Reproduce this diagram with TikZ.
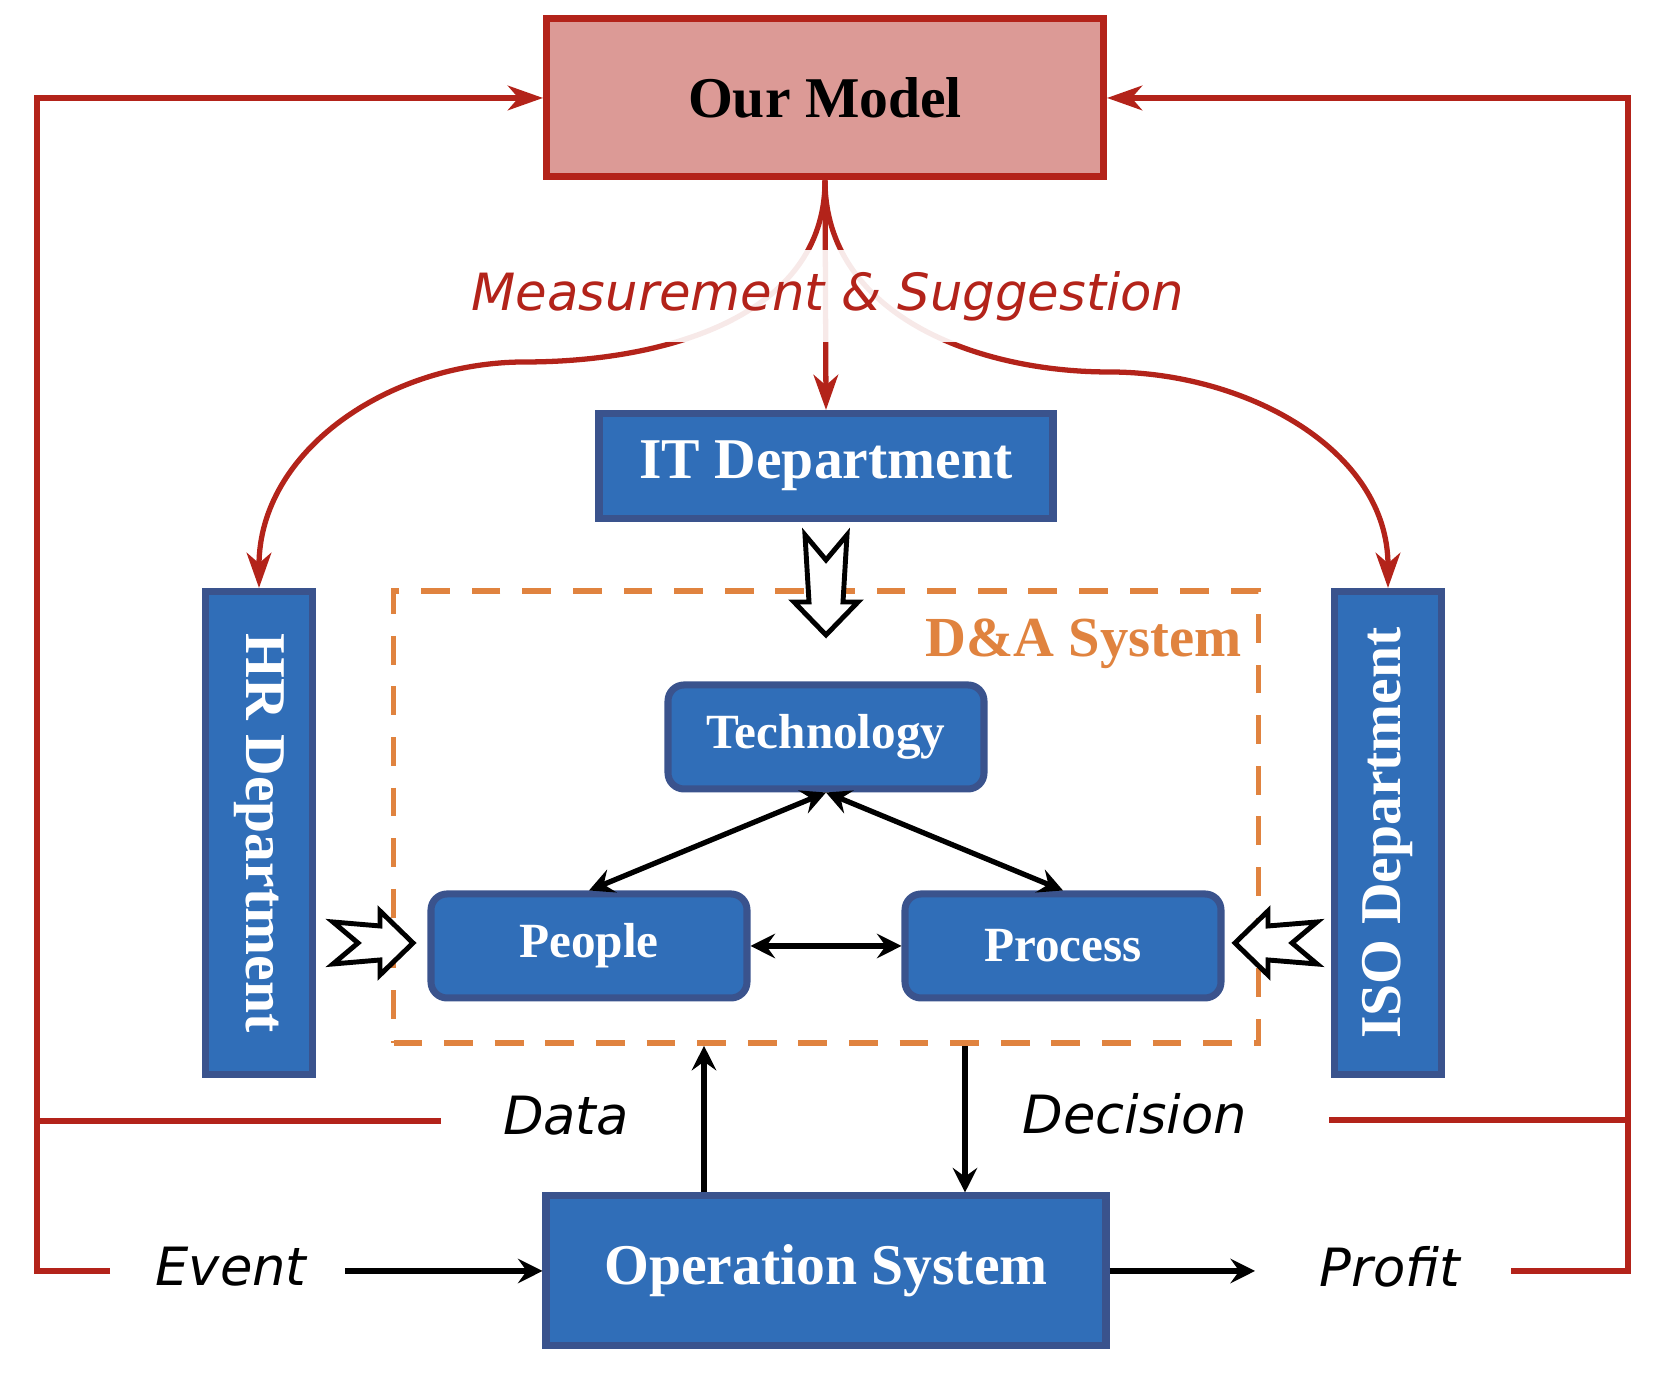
\documentclass[tikz,border=0pt]{standalone}
\usepackage{graphicx,xcolor,tikz}
\usepackage{fontspec}
\setmainfont{Liberation Serif}
\newfontfamily\handfont{DejaVu Sans}
\usetikzlibrary{arrows.meta,calc,positioning}
\definecolor{dsRed}{HTML}{B3231A}
\definecolor{dsPink}{HTML}{DC9A96}
\definecolor{dsBlue}{HTML}{306EB8}
\definecolor{dsNavy}{HTML}{3A538D}
\definecolor{dsOrange}{HTML}{E0833F}
\tikzset{
 flowchart/.style={line cap=butt,line join=miter},
 model/.style={rectangle,draw=dsRed,fill=dsPink,line width=2pt,text=black,
   font=\fontsize{16.4}{18}\selectfont\bfseries,minimum width=55.7mm,minimum height=15.8mm},
 dept/.style={rectangle,draw=dsNavy,fill=dsBlue,line width=2pt,text=white,inner sep=0pt,
   font=\fontsize{16.4}{18}\selectfont\bfseries},
 part/.style={dept,rounded corners=1.6mm,font=\fontsize{14}{16}\selectfont\bfseries,
   minimum width=31.6mm,minimum height=10.4mm},
 system/.style={rectangle,draw=dsOrange,line width=1.6pt,dash pattern=on 8.2pt off 6.2pt,
   minimum width=86.5mm,minimum height=45.2mm},
 systitle/.style={anchor=north east,inner sep=0pt,text=dsOrange,font=\fontsize{16.1}{18}\selectfont\bfseries},
 hand/.style={font=\handfont\itshape\fontsize{15}{17}\selectfont,text=black},
 feedback/.style={draw=dsRed,line width=1.5pt},
 feedarrow/.style={feedback,-{Stealth[length=10pt,width=7pt,inset=3pt]}},
 flow/.style={draw=black,line width=1.5pt,-{Stealth[length=7pt,width=7pt,inset=2.5pt]}},
 flowboth/.style={flow,{Stealth[length=7pt,width=7pt,inset=2.5pt]}-{Stealth[length=7pt,width=7pt,inset=2.5pt]}},
 hollow/.style={draw=black,fill=white,line width=1.4pt,line join=miter}
}
\newcommand{\blockArrow}[4]{%
 \begin{scope}[shift={(#1,#2)},rotate=#3]
 \draw[hollow] (0,21)--(#4-33,17)--(#4-33,32)--(#4,0)--(#4-33,-32)--(#4-33,-17)--(0,-21)--(25,0)--cycle;
 \end{scope}}

\begin{document}
\begin{tikzpicture}[flowchart,x=.1mm,y=.1mm]
 \useasboundingbox (0,0) rectangle (1664,1374);
 \node[model] (Model) at (825,1276) {Our Model};
 \node[dept,minimum width=45.4mm,minimum height=10.5mm] (IT) at (826,908) {IT Department};
 \node[dept,minimum width=10.7mm,minimum height=48.3mm] (HR) at (259,541) {\rotatebox{-90}{HR Department}};
 \node[dept,minimum width=10.7mm,minimum height=48.3mm] (ISO) at (1388,541) {\rotatebox{90}{ISO Department}};
 \node[system] (DA) at (826,557) {};
 \node[systitle] (DAtitle) at ($(DA.north east)+(-19,-30)$) {D\&A System};
 \node[part] (Tech) at (826,637) {Technology};
 \node[part] (People) at (589,428) {People};
 \node[part] (Process) at (1063,428) {Process};
 \node[dept,minimum width=56mm,minimum height=15mm] (OS) at (826,103) {Operation System};
 % model feeds the departments
 \coordinate (hrBend) at (525,1012); \coordinate (isoBend) at (1109,1002);
 \draw[feedarrow] (Model.south) to[out=-90,in=0] (hrBend) to[out=180,in=90] (HR.north);
 \draw[feedarrow] (Model.south) to[out=-90,in=180] (isoBend) to[out=0,in=90] (ISO.north);
 \draw[feedarrow] (Model.south) -- (IT.north);
 \node[hand,text=dsRed,fill=white,fill opacity=.9,text opacity=1,inner ysep=6pt,
   font=\handfont\itshape\fontsize{14.6}{17}\selectfont] (Meas) at (828,1078) {Measurement \& Suggestion};
 % outer loops
 \coordinate (lft) at (37,253); \coordinate (rgt) at (1628,254);
 \coordinate (evEnd) at (110,103); \coordinate (dtEnd) at (441,253);
 \coordinate (dcEnd) at (1329,254); \coordinate (prEnd) at (1511,103);
 \draw[feedarrow] (evEnd) -| (lft) |- (Model.west);
 \draw[feedback] (dtEnd) -- (lft);
 \draw[feedarrow] (prEnd) -| (rgt) |- (Model.east);
 \draw[feedback] (dcEnd) -- (rgt);
 \node[hand] (Data) at (566,258) {Data};
 \node[hand] (Decision) at (1135,260) {Decision};
 \node[hand] (Event) at (231,107) {Event};
 \node[hand] (Profit) at (1390,107) {Profit};
 % inner flows
 \coordinate (dataX) at (704,0); \coordinate (decX) at (965,0);
 \coordinate (evStart) at (345,103); \coordinate (prTip) at (1255,103);
 \draw[flow] (dataX |- OS.north) -- (dataX |- DA.south);
 \draw[flow] (decX |- DA.south) -- (decX |- OS.north);
 \draw[flow] (evStart) -- (OS.west);
 \draw[flow] (OS.east) -- (prTip);
 \draw[flowboth] (Tech.south) -- (People.north);
 \draw[flowboth] (Tech.south) -- (Process.north);
 \draw[flowboth] (People.east) -- (Process.west);
 \blockArrow{826}{839}{-90}{100}
 \blockArrow{333}{431}{0}{80}
 \blockArrow{1317}{431}{180}{82}
\end{tikzpicture}
\end{document}
